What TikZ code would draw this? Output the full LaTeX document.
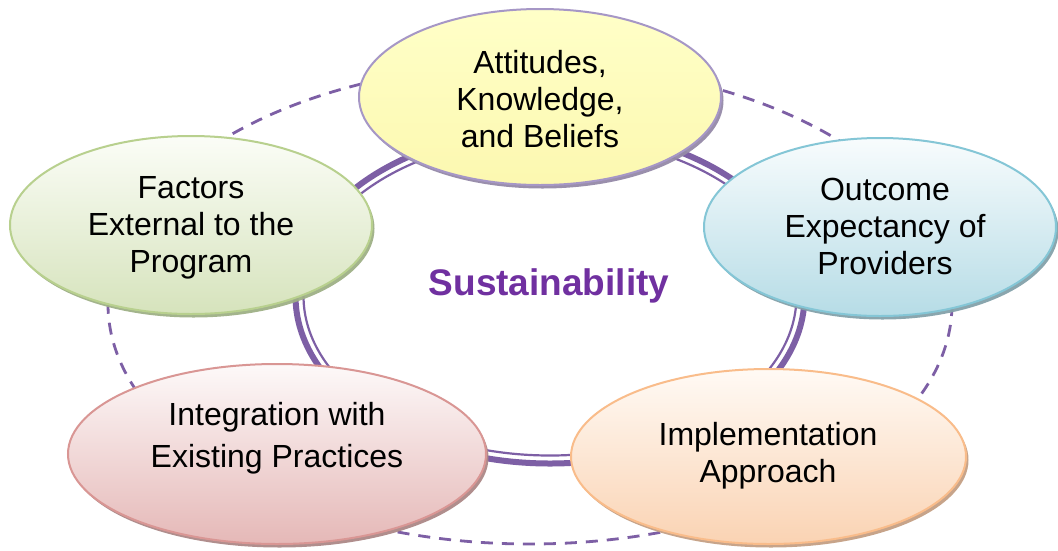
\documentclass[tikz,border=0pt]{standalone}
\usepackage{fontspec}
\setmainfont{Liberation Sans}
\usetikzlibrary{shapes.geometric,shadows}

\definecolor{ringpurple}{HTML}{7D5FA5}
\definecolor{titlepurple}{HTML}{7030A0}
% fills (top / bottom), borders and shadows of the five topics
\definecolor{ylTop}{HTML}{FFFFC8}\definecolor{ylBot}{HTML}{FCF8B0}\definecolor{ylLine}{HTML}{A697C6}\definecolor{ylShad}{HTML}{958AA8}
\definecolor{grTop}{HTML}{FBFDF7}\definecolor{grBot}{HTML}{D6E3BC}\definecolor{grLine}{HTML}{B8D08E}\definecolor{grShad}{HTML}{9FB086}
\definecolor{blTop}{HTML}{F8FCFD}\definecolor{blBot}{HTML}{B6DCE6}\definecolor{blLine}{HTML}{84C6D6}\definecolor{blShad}{HTML}{84A2AA}
\definecolor{pkTop}{HTML}{FDF9F9}\definecolor{pkBot}{HTML}{E5B8B7}\definecolor{pkLine}{HTML}{D99694}\definecolor{pkShad}{HTML}{AC8887}
\definecolor{orTop}{HTML}{FFFAF5}\definecolor{orBot}{HTML}{FAD3B3}\definecolor{orLine}{HTML}{F9BC8A}\definecolor{orShad}{HTML}{C4A084}

\tikzset{
  topic/.style n args={4}{ellipse, inner sep=0pt, line width=2pt,
    draw=#3, top color=#1, bottom color=#2,
    drop shadow={shadow xshift=2.5pt, shadow yshift=-3.5pt, fill=#4, opacity=0.95}},
  % anchored at the baseline of the last line
  topictext/.style={align=center, anchor=base, text=black,
    font=\fontsize{32}{37}\selectfont},
  outerring/.style={draw=ringpurple, line width=2.8pt, dash pattern=on 12pt off 9pt},
  ringthick/.style={draw=ringpurple, line width=6pt},
  ringthin/.style={draw=ringpurple, line width=2.2pt},
}

\begin{document}
\begin{tikzpicture}[x=1pt,y=-1pt]
  \useasboundingbox (0,0) rectangle (1058,550);
  \fill[white] (0,0) rectangle (1058,550);

  % dashed outer ring
  \draw[outerring] (530,304) ellipse [x radius=422, y radius=240];
  % thick-thin inner ring
  \draw[ringthick] (550,296) ellipse [x radius=254.5, y radius=167.5];
  \draw[ringthin]  (550,296) ellipse [x radius=246.5, y radius=159.5];

  % centre label
  \node[anchor=base, text=titlepurple, font=\fontsize{37}{44}\selectfont\bfseries]
    (sust) at (549,295) {Sustainability};

  % the five topics
  \node[topic={ylTop}{ylBot}{ylLine}{ylShad}, minimum width=362pt, minimum height=176pt]
    (attE) at (540,97) {};
  \node[topic={grTop}{grBot}{grLine}{grShad}, minimum width=362pt, minimum height=178pt]
    (extE) at (191,225) {};
  \node[topic={blTop}{blBot}{blLine}{blShad}, minimum width=352pt, minimum height=178pt]
    (outE) at (880,227) {};
  \node[topic={pkTop}{pkBot}{pkLine}{pkShad}, minimum width=418pt, minimum height=180pt]
    (intE) at (277,454) {};
  \node[topic={orTop}{orBot}{orLine}{orShad}, minimum width=395pt, minimum height=175pt]
    (impE) at (768.5,456.5) {};

  \node[topictext] (attT) at (540,147) {Attitudes,\\Knowledge,\\and Beliefs};
  \node[topictext] (extT) at (191,272) {Factors\\External to the\\Program};
  \node[topictext] (outT) at (885,274) {Outcome\\Expectancy of\\Providers};
  \node[topictext, font=\fontsize{32}{42}\selectfont] (intT) at (277,467)
    {Integration with\\Existing Practices};
  \node[topictext] (impT) at (768,482) {Implementation\\Approach};
\end{tikzpicture}
\end{document}
